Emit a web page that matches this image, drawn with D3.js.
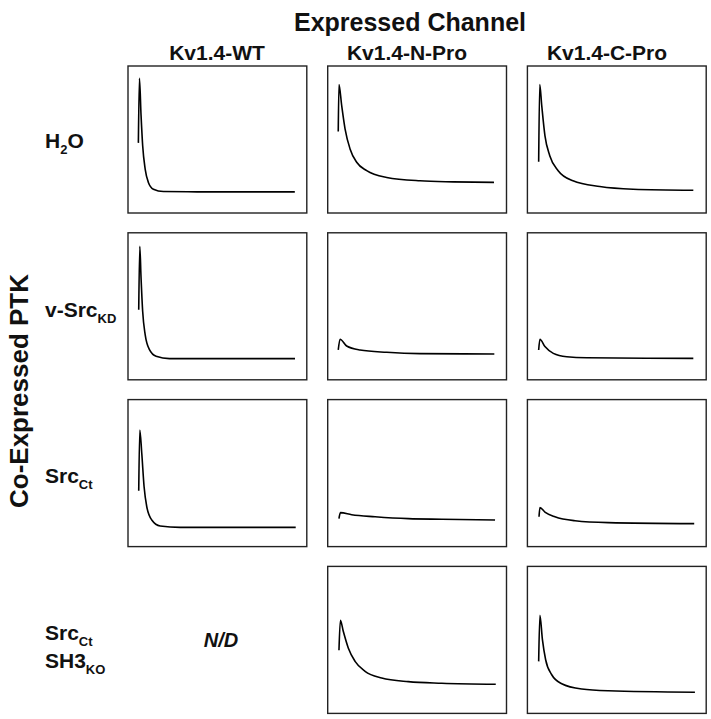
<!DOCTYPE html>
<html>
<head>
<meta charset="utf-8">
<script src="https://cdn.jsdelivr.net/npm/d3@7"></script>
<style>
  html, body { margin: 0; padding: 0; background: #fff; }
  svg { display: block; }
  text { font-family: "Liberation Sans", Arial, Helvetica, sans-serif; font-weight: 700; fill: #111; }
</style>
</head>
<body>
<svg id="fig" width="711" height="719"></svg>
<script>
'use strict';

// ── labels ───────────────────────────────────────────────
const channels = ['Kv1.4-WT', 'Kv1.4-N-Pro', 'Kv1.4-C-Pro'];
const ptks = ['H2O', 'v-SrcKD', 'SrcCt', 'SrcCtSH3KO'];

// ── traces: [time (% of sweep), current (% of full scale)] ──
const wtH2O   = [[5.8,47.7],[6.4,91.6],[7.3,66.4],[8.2,45.9],[9.6,29.9],[11.4,20.8],[14.2,16.2],[19.8,14.6],[38.6,14.4],[93.3,14.4]];
const nproH2O = [[5.9,55.5],[6.3,87.4],[7.8,73.3],[9.7,57.3],[12.5,43.6],[16.2,34.5],[21.8,28.8],[33.0,24.2],[51.6,21.9],[70.2,21.2],[93.0,20.8]];
const cproH2O = [[6.3,34.9],[6.9,87.4],[8.0,73.3],[9.8,52.7],[12.5,39.0],[17.2,28.8],[25.5,21.9],[40.5,18.0],[59.1,16.2],[92.8,15.5]];

const wtKD    = [[6.0,47.7],[6.6,90.8],[7.3,69.3],[8.2,46.6],[9.6,30.7],[12.0,20.5],[15.7,16.0],[23.2,14.4],[93.4,14.4]];
const nproKD  = [[5.9,20.3],[6.9,27.6],[10.6,23.0],[18.1,20.3],[33.0,18.7],[51.6,17.8],[93.2,17.6]];
const cproKD  = [[6.3,20.3],[7.0,27.6],[9.8,22.6],[14.5,18.0],[22.0,15.7],[33.2,15.0],[92.8,14.6]];

const wtCt    = [[6.0,38.0],[6.6,79.3],[7.7,63.5],[9.0,40.7],[10.5,27.1],[13.3,18.1],[18.0,14.0],[29.2,13.1],[93.8,13.1]];
const nproCt  = [[6.3,19.0],[7.1,23.1],[13.4,21.7],[26.5,20.3],[45.1,19.0],[63.8,18.6],[93.6,18.1]];
const cproCt  = [[6.5,20.3],[7.0,26.5],[9.8,23.5],[15.4,20.3],[26.6,17.6],[45.2,16.3],[93.3,15.6]];

const nproSH3 = [[6.3,42.9],[7.1,63.3],[8.7,55.9],[11.5,44.5],[15.3,35.4],[20.9,28.6],[30.2,24.1],[45.1,21.6],[63.8,20.5],[94.0,19.8]];
const cproSH3 = [[6.3,35.4],[7.0,66.7],[8.4,50.2],[10.2,36.5],[13.6,26.3],[19.2,20.2],[30.4,16.6],[45.2,15.4],[93.7,14.4]];

// rows = PTK, columns = channel; null = not determined
const grid = [
  [wtH2O, nproH2O, cproH2O],
  [wtKD,  nproKD,  cproKD],
  [wtCt,  nproCt,  cproCt],
  [null,  nproSH3, cproSH3],
];

// ── layout ───────────────────────────────────────────────
const svg = d3.select('#fig');

const col = d3.scaleBand().domain(channels).range([128, 706.2]).paddingInner(0.1047);
const row = d3.scaleBand().domain(ptks).range([66, 713.4]).paddingInner(0.1187);

const bw = col.bandwidth(), bh = row.bandwidth();
const x = d3.scaleLinear().domain([0, 100]).range([0, bw]);
const y = d3.scaleLinear().domain([0, 100]).range([bh, 0]);

const line = d3.line()
  .x(d => x(d[0]))
  .y(d => y(d[1]))
  .curve(d3.curveMonotoneX);

// ── titles ───────────────────────────────────────────────
svg.append('text')
  .attr('x', 410).attr('y', 31)
  .attr('text-anchor', 'middle')
  .attr('font-size', 25)
  .text('Expressed Channel');

const headerX = [217, 407, 607];
channels.forEach((c, i) => {
  svg.append('text')
    .attr('x', headerX[i]).attr('y', 60)
    .attr('text-anchor', 'middle')
    .attr('font-size', 21)
    .text(c);
});

svg.append('text')
  .attr('transform', 'translate(28,391) rotate(-90)')
  .attr('text-anchor', 'middle')
  .attr('font-size', 26)
  .text('Co-Expressed PTK');

// ── row labels (with subscripts) ─────────────────────────
// parts: [text, isSub]
function label(yPos, parts) {
  const t = svg.append('text').attr('x', 45).attr('y', yPos).attr('font-size', 21);
  let low = false;
  parts.forEach(([s, sub]) => {
    const dy = sub && !low ? 6 : (!sub && low ? -6 : 0);
    low = !!sub;
    t.append('tspan')
      .attr('dy', dy)
      .attr('font-size', sub ? 13 : 21)
      .text(s);
  });
}
label(148, [['H'], ['2', true], ['O']]);
label(317, [['v-Src'], ['KD', true]]);
label(483, [['Src'], ['Ct', true]]);
label(640, [['Src'], ['Ct', true]]);
label(668, [['SH3'], ['KO', true]]);

// ── panels ───────────────────────────────────────────────
ptks.forEach((p, r) => {
  channels.forEach((c, ci) => {
    const data = grid[r][ci];
    const g = svg.append('g').attr('transform', `translate(${col(c)},${row(p)})`);
    if (!data) {
      g.append('text')
        .attr('x', 221 - col(c)).attr('y', 647 - row(p))
        .attr('text-anchor', 'middle')
        .attr('font-size', 20)
        .attr('font-style', 'italic')
        .text('N/D');
      return;
    }
    g.append('rect')
      .attr('width', bw).attr('height', bh)
      .attr('fill', 'none')
      .attr('stroke', '#222')
      .attr('stroke-width', 1.4);
    g.append('path')
      .attr('d', line(data))
      .attr('fill', 'none')
      .attr('stroke', '#000')
      .attr('stroke-width', 1.6)
      .attr('stroke-linejoin', 'round');
  });
});
</script>
</body>
</html>
